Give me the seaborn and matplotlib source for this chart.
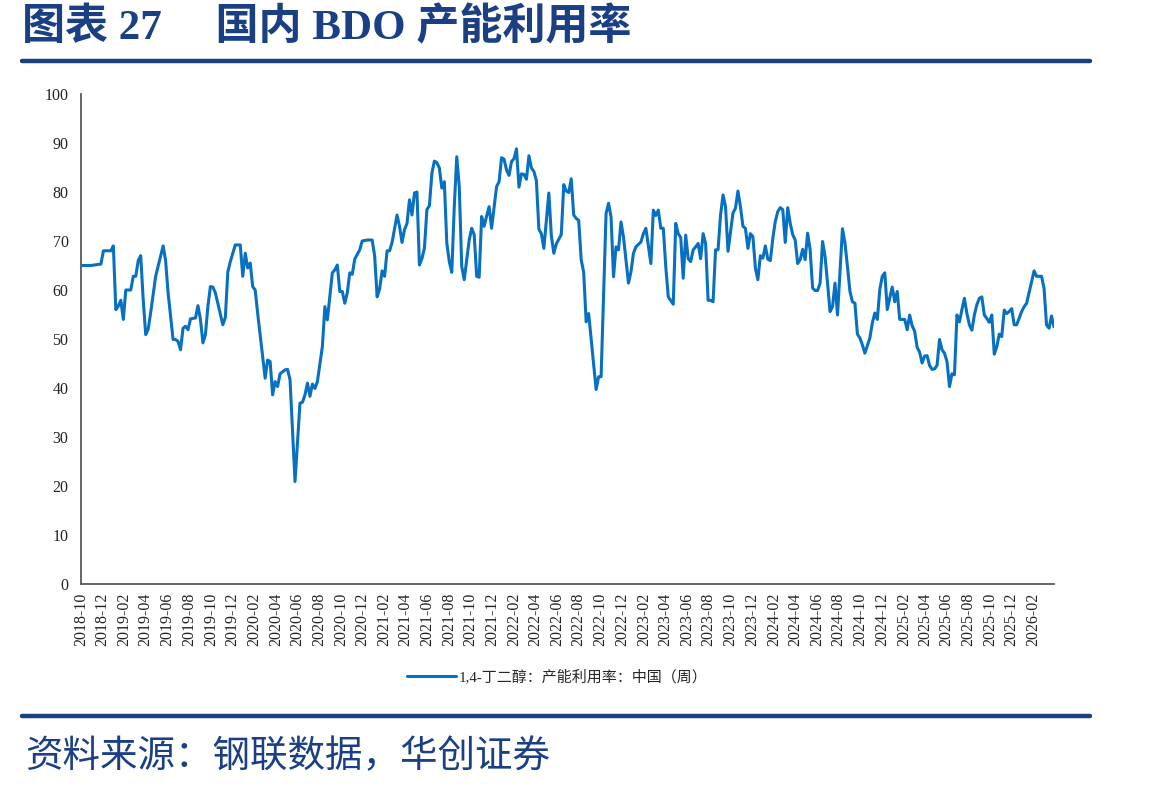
import numpy as np
import pandas as pd
import matplotlib
matplotlib.use("Agg")
import matplotlib.pyplot as plt
import matplotlib.dates as mdates
import seaborn as sns

# ---- data (weekly observations; week index counted from 2018-10-01) ----
start_date = "2018-10-01"
week_index = [0, 4, 8, 9, 12, 13, 14, 15, 16, 17, 18, 20, 21, 22, 23, 24, 25, 26, 27, 28,
              30, 33, 34, 35, 37, 38, 39, 40, 41, 42, 43, 44, 46, 47, 48, 49, 50, 51, 52, 53,
              54, 57, 58, 59, 60, 62, 64, 65, 66, 67, 68, 69, 70, 71, 73, 74, 75, 76, 77, 78,
              79, 80, 82, 83, 84, 86, 88, 89, 90, 91, 92, 93, 94, 95, 97, 98, 99, 101, 102, 103,
              104, 105, 106, 107, 108, 109, 110, 112, 113, 115, 117, 118, 119, 120, 121, 122, 123, 124, 125, 127,
              128, 129, 130, 131, 132, 133, 134, 135, 136, 137, 138, 139, 140, 141, 142, 143, 144, 145, 146, 147,
              148, 149, 150, 151, 152, 153, 154, 155, 156, 157, 158, 159, 160, 161, 162, 163, 164, 165, 167, 168,
              169, 170, 171, 172, 173, 174, 175, 176, 177, 178, 179, 180, 181, 182, 183, 184, 185, 186, 188, 189,
              190, 191, 193, 194, 195, 196, 197, 198, 199, 200, 201, 202, 203, 204, 207, 208, 209, 211, 212, 213,
              214, 215, 216, 217, 218, 220, 221, 222, 223, 225, 226, 227, 229, 230, 231, 232, 233, 234, 235, 236,
              238, 239, 240, 241, 242, 243, 244, 245, 246, 247, 248, 249, 250, 251, 252, 253, 254, 255, 256, 257,
              258, 259, 260, 262, 263, 264, 265, 266, 267, 268, 269, 270, 271, 272, 273, 274, 275, 276, 277, 278,
              279, 280, 281, 282, 283, 284, 285, 286, 287, 288, 289, 290, 291, 292, 293, 294, 295, 296, 297, 298,
              299, 300, 301, 302, 303, 304, 306, 307, 308, 309, 310, 311, 312, 313, 314, 315, 317, 318, 319, 320,
              321, 322, 323, 324, 325, 326, 327, 328, 329, 330, 331, 332, 333, 334, 335, 336, 337, 338, 339, 340,
              341, 342, 343, 344, 345, 346, 347, 348, 349, 350, 351, 352, 353, 354, 355, 356, 357, 358, 359, 360,
              361, 362, 363, 364, 365, 366, 367, 368, 369, 370, 371, 372, 373, 374, 375, 376, 378, 379, 380, 382,
              383, 384, 386, 387, 388, 389, 390, 391]
utilization = [65.0, 65.0, 65.3, 68.0, 68.0, 69.0, 56.0, 56.7, 57.9, 54.0, 60.0, 60.0, 62.8, 62.8, 66.0, 67.0, 58.0, 50.9, 52.0, 55.4,
               62.8, 69.0, 66.0, 59.4, 49.9, 49.9, 49.5, 47.8, 52.2, 52.6, 51.9, 54.1, 54.3, 56.8, 54.0, 49.2, 50.9, 56.7, 60.7, 60.6,
               59.4, 52.9, 54.4, 63.7, 65.8, 69.2, 69.2, 62.8, 67.5, 64.5, 65.5, 60.7, 60.0, 55.2, 46.4, 42.0, 45.7, 45.4, 38.6, 41.3,
               40.3, 42.9, 43.7, 43.8, 41.7, 20.9, 36.9, 37.1, 38.6, 41.0, 38.3, 40.8, 39.9, 41.3, 48.5, 56.6, 53.9, 63.5, 64.1, 65.1,
               59.7, 59.7, 57.3, 59.4, 63.5, 63.2, 66.3, 68.2, 70.0, 70.2, 70.2, 67.0, 58.6, 60.2, 63.9, 62.8, 68.0, 68.0, 69.7, 75.3,
               73.0, 69.7, 72.3, 73.6, 78.4, 75.3, 79.8, 80.0, 65.1, 66.4, 68.5, 76.4, 77.2, 83.8, 86.3, 86.0, 84.9, 80.8, 82.1, 69.6,
               65.8, 63.6, 77.0, 87.2, 81.1, 64.8, 62.1, 66.2, 70.2, 72.6, 71.3, 62.8, 62.6, 75.0, 73.0, 75.1, 77.0, 72.6, 81.1, 82.1,
               87.0, 86.7, 84.5, 83.4, 86.2, 86.8, 88.8, 81.0, 83.7, 83.6, 82.6, 87.4, 84.9, 84.2, 82.3, 72.4, 71.5, 68.5, 79.8, 71.1,
               67.5, 69.4, 71.3, 81.5, 80.2, 79.9, 82.7, 75.3, 74.6, 74.2, 66.2, 63.6, 53.5, 55.2, 39.7, 42.3, 42.3, 75.6, 77.7, 74.9,
               62.7, 68.8, 68.2, 73.9, 70.8, 61.4, 63.7, 67.5, 68.8, 69.8, 71.5, 72.6, 65.4, 76.3, 75.2, 76.3, 72.6, 72.6, 64.7, 58.6,
               57.1, 73.6, 71.5, 70.7, 62.4, 71.2, 66.4, 65.8, 68.2, 68.8, 69.5, 66.4, 71.5, 69.5, 57.9, 57.9, 57.6, 68.2, 68.2, 75.3,
               79.4, 77.0, 67.9, 75.7, 76.7, 80.2, 77.0, 73.0, 72.6, 68.5, 71.5, 70.9, 64.5, 62.1, 67.0, 66.5, 69.0, 66.3, 66.0, 70.5,
               74.0, 76.0, 76.8, 76.4, 69.7, 76.8, 73.6, 71.3, 70.2, 65.4, 66.2, 68.3, 66.2, 71.6, 68.2, 60.4, 59.9, 59.9, 61.4, 69.9,
               66.8, 61.4, 55.6, 56.6, 61.4, 54.9, 72.5, 69.6, 64.8, 59.7, 57.6, 57.3, 51.0, 50.2, 48.8, 47.1, 50.2, 53.3, 55.3, 54.0,
               60.1, 62.8, 63.5, 56.0, 58.4, 60.6, 57.6, 59.7, 54.0, 54.0, 54.0, 51.9, 54.9, 52.7, 51.6, 48.3, 47.3, 45.1, 46.5, 46.6,
               44.6, 43.8, 43.9, 44.6, 49.9, 47.8, 47.1, 45.4, 40.3, 42.9, 42.7, 54.9, 53.5, 56.0, 58.3, 55.2, 52.9, 51.8, 54.9, 57.0,
               58.3, 58.6, 54.9, 54.2, 53.4, 54.9, 46.9, 48.4, 51.0, 50.5, 55.9, 55.2, 55.6, 56.2, 52.9, 52.9, 55.6, 56.6, 57.3, 61.7,
               63.9, 62.8, 62.8, 60.3, 52.9, 52.2, 54.7, 52.5]
y_ticks = [0, 10, 20, 30, 40, 50, 60, 70, 80, 90, 100]
series_name = "1,4-丁二醇：产能利用率：中国（周）"
title_text = "图表 27　 国内 BDO 产能利用率"
source_text = "资料来源：钢联数据，华创证券"

dates = pd.Timestamp(start_date) + pd.to_timedelta(np.array(week_index) * 7, unit="D")
df = pd.DataFrame({"date": dates, "value": utilization})

# ---- style ----
sns.set_style("white")
plt.rcParams["font.family"] = ["Liberation Serif", "Noto Sans CJK SC", "DejaVu Sans"]
plt.rcParams["axes.unicode_minus"] = False

DARK_BLUE = "#1A3F84"
LINE_BLUE = "#0870C0"
AXIS_GRAY = "#595959"

fig = plt.figure(figsize=(11.49, 7.92), dpi=100)
ax = fig.add_axes([81 / 1149, 1 - 584 / 792, (1054 - 81) / 1149, (584 - 94) / 792])

sns.lineplot(data=df, x="date", y="value", ax=ax, color=LINE_BLUE, linewidth=2.2,
             label=series_name, legend=False)

ax.set_ylim(0, 100)
ax.set_yticks(y_ticks)
ax.set_xlim(pd.Timestamp(start_date), dates[-1])
ax.xaxis.set_major_locator(mdates.MonthLocator(bymonth=[2, 4, 6, 8, 10, 12]))
ax.xaxis.set_major_formatter(mdates.DateFormatter("%Y-%m"))
ax.set_xlabel("")
ax.set_ylabel("")

for s in ["top", "right"]:
    ax.spines[s].set_visible(False)
for s in ["left", "bottom"]:
    ax.spines[s].set_color(AXIS_GRAY)
    ax.spines[s].set_linewidth(1.3)

ax.tick_params(axis="both", direction="out", length=5, width=1.0, color=AXIS_GRAY,
               labelcolor="#222222", labelsize=11.5)
ax.tick_params(axis="x", rotation=90, pad=1.5)
ax.tick_params(axis="y", pad=4)
ax.grid(False)

# legend
handles, labels = ax.get_legend_handles_labels()
leg = fig.legend(handles, labels, loc="center", bbox_to_anchor=(0.485, 1 - 677 / 792),
                 frameon=False, handlelength=3.3, handletextpad=0.2,
                 prop={"family": ["Liberation Serif", "Noto Sans CJK SC"], "size": 10.8})

# title
fig.text(22 / 1149, 1 - 28 / 792, title_text, ha="left", va="center",
         fontsize=31, fontweight="bold", color=DARK_BLUE,
         family=["Liberation Serif", "Noto Sans CJK SC"])

# separator lines
fig.add_artist(plt.Line2D([22 / 1149, 1090 / 1149], [1 - 61 / 792, 1 - 61 / 792],
                          color=DARK_BLUE, linewidth=3.2, transform=fig.transFigure))
fig.add_artist(plt.Line2D([22 / 1149, 1090 / 1149], [1 - 716 / 792, 1 - 716 / 792],
                          color=DARK_BLUE, linewidth=3.2, transform=fig.transFigure))

# source
fig.text(25 / 1149, 1 - 757 / 792, source_text, ha="left", va="center",
         fontsize=27, color=DARK_BLUE, style="italic",
         family=["Noto Sans CJK SC"])

fig.savefig("out.png", dpi=100)
